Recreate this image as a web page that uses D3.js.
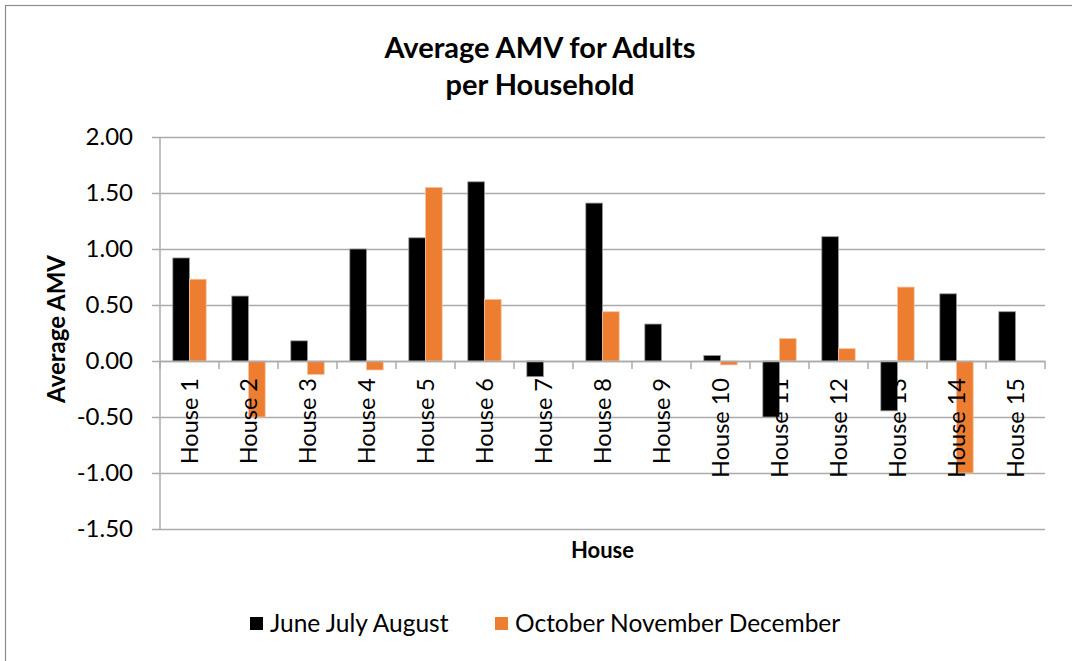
<html>

<head>
    <meta charset="UTF-8">
    <title>Average AMV for Adults per Household</title>
    <script src="https://cdn.jsdelivr.net/npm/d3@7/dist/d3.min.js" charset="utf-8"></script>
    <style>
        body { margin: 0; background: #fff; }
        text { font-family: Lato, "Open Sans", sans-serif; fill: #000; }
    </style>
</head>

<body>
    <svg id="mySvg" width="1072" height="661"></svg>
    <script>
        // data
        var houses = ["House 1", "House 2", "House 3", "House 4", "House 5", "House 6", "House 7", "House 8",
            "House 9", "House 10", "House 11", "House 12", "House 13", "House 14", "House 15"];
        var seriesNames = ["June July August", "October November December"];
        var summer = [0.92, 0.58, 0.18, 1.00, 1.10, 1.60, -0.14, 1.41, 0.33, 0.05, -0.50, 1.11, -0.445, 0.60, 0.44];
        var winter = [0.73, -0.50, -0.12, -0.08, 1.55, 0.55, 0, 0.44, 0, -0.035, 0.20, 0.11, 0.66, -1.00, 0];
        var yTicks = [2.00, 1.50, 1.00, 0.50, 0.00, -0.50, -1.00, -1.50];
        var colors = ["#000000", "#ED7D31"];

        var width = 1072, height = 661;
        var margin = { top: 137, right: 27, bottom: 132, left: 160 };
        var svg = d3.select("#mySvg");

        // outer chart border
        svg.append("rect")
            .attr("x", 5.5).attr("y", 5.5)
            .attr("width", width + 10).attr("height", height + 10)
            .attr("fill", "#fff")
            .attr("stroke", "#8c8c8c")
            .attr("stroke-width", 1.2);

        var x0 = d3.scaleBand()
            .domain(houses)
            .range([margin.left, width - margin.right]);
        var step = x0.bandwidth();
        var x1 = d3.scaleBand()
            .domain(seriesNames)
            .range([step * 0.217, step * 0.783]);
        var y = d3.scaleLinear()
            .domain([-1.5, 2])
            .range([height - margin.bottom, margin.top]);

        // gridlines + y tick labels
        var yAxis = d3.axisLeft(y)
            .tickValues(yTicks)
            .tickSize(-(width - margin.right - margin.left))
            .tickPadding(27)
            .tickFormat(d3.format(".2f"));
        var gy = svg.append("g")
            .attr("transform", `translate(${margin.left},0)`)
            .call(yAxis);
        gy.select(".domain").remove();
        gy.selectAll(".tick line")
            .attr("x1", -8)
            .attr("stroke", "#ababab")
            .attr("stroke-width", 1.5);
        gy.selectAll(".tick text")
            .style("font-size", "24px")
            .text(function (d) { return d3.format(".2f")(d).replace("−", "-"); });

        // y axis line
        svg.append("line")
            .attr("x1", margin.left).attr("x2", margin.left)
            .attr("y1", y(2)).attr("y2", y(-1.5))
            .attr("stroke", "#ababab")
            .attr("stroke-width", 1.5);

        // bars
        var rows = houses.map(function (h, i) {
            return { house: h, values: [summer[i], winter[i]] };
        });
        var groups = svg.append("g").selectAll("g")
            .data(rows)
            .enter().append("g")
            .attr("transform", function (d) { return `translate(${x0(d.house)},0)`; });
        groups.selectAll("rect")
            .data(function (d) {
                return d.values.map(function (v, k) { return { s: seriesNames[k], v: v, k: k }; });
            })
            .enter().append("rect")
            .filter(function (d) { return d.v !== 0; })
            .attr("x", function (d) { return x1(d.s); })
            .attr("width", x1.bandwidth())
            .attr("y", function (d) { return y(Math.max(0, d.v)); })
            .attr("height", function (d) { return Math.abs(y(d.v) - y(0)); })
            .attr("fill", function (d) { return colors[d.k]; })
            .attr("stroke", function (d) { return d.k === 0 ? "#9a9a9a" : "#f6c3a0"; })
            .attr("stroke-width", 0.8);

        // category axis along zero
        var xAxis = d3.axisBottom(x0).tickSize(0).tickFormat("");
        var gx = svg.append("g")
            .attr("transform", `translate(0,${y(0)})`)
            .call(xAxis);
        gx.select(".domain").attr("stroke", "#ababab").attr("stroke-width", 1.5);
        gx.selectAll(".tick").remove();
        var bounds = houses.map(function (h) { return x0(h); }).concat([width - margin.right]);
        gx.selectAll(".sep")
            .data(bounds)
            .enter().append("line")
            .attr("x1", function (d) { return d; })
            .attr("x2", function (d) { return d; })
            .attr("y1", 0).attr("y2", 8)
            .attr("stroke", "#ababab")
            .attr("stroke-width", 1.5);
        gx.selectAll(".lbl")
            .data(houses)
            .enter().append("text")
            .attr("transform", function (d) {
                return `translate(${x0(d) + step / 2},17) rotate(-90)`;
            })
            .attr("dy", "0.36em")
            .attr("text-anchor", "end")
            .style("font-size", "23.5px")
            .text(function (d) { return d; });

        // titles
        var title = svg.append("text")
            .attr("x", 540)
            .attr("text-anchor", "middle")
            .style("font-size", "29px")
            .style("font-weight", "bold");
        title.append("tspan").attr("x", 540).attr("y", 58).text("Average AMV for Adults");
        title.append("tspan").attr("x", 540).attr("y", 95).text("per Household");

        svg.append("text")
            .attr("x", (margin.left + width - margin.right) / 2)
            .attr("y", 558)
            .attr("text-anchor", "middle")
            .style("font-size", "22px")
            .style("font-weight", "bold")
            .text("House");

        svg.append("text")
            .attr("transform", `translate(65,${(y(2) + y(-1.5)) / 2 - 4}) rotate(-90)`)
            .attr("text-anchor", "middle")
            .style("font-size", "24px")
            .style("font-weight", "bold")
            .text("Average AMV");

        // legend
        var legendX = [250, 495];
        var legend = svg.append("g").selectAll("g")
            .data(seriesNames)
            .enter().append("g")
            .attr("transform", function (d, i) { return `translate(${legendX[i]},617)`; });
        legend.append("rect")
            .attr("width", 13).attr("height", 13)
            .attr("fill", function (d, i) { return colors[i]; });
        legend.append("text")
            .attr("x", 20)
            .attr("y", 13)
            .attr("dy", "0.1em")
            .style("font-size", "24.5px")
            .text(function (d) { return d; });
    </script>
</body>

</html>
